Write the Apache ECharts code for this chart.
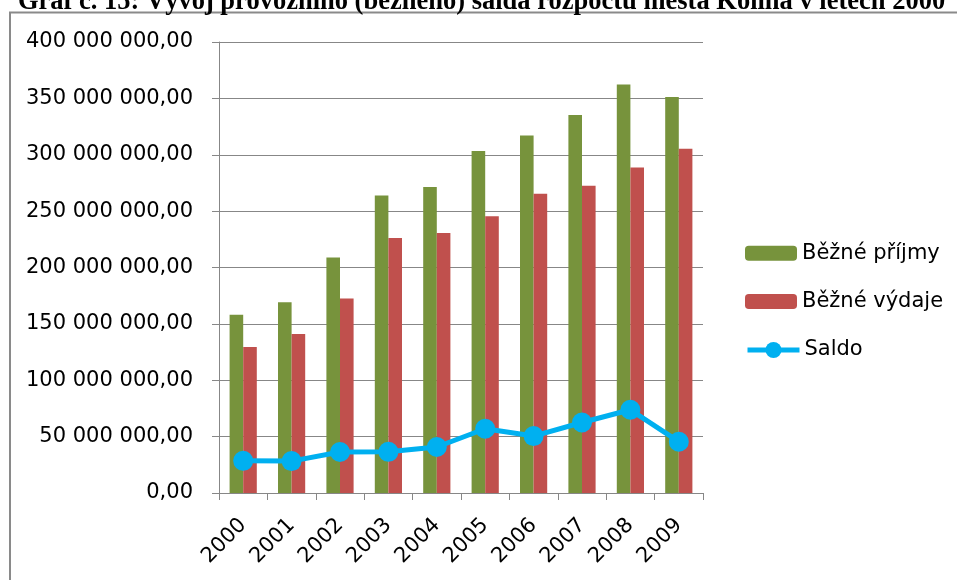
<!DOCTYPE html>
<html>
<head>
<meta charset="utf-8">
<script src="https://cdn.jsdelivr.net/npm/echarts@6/dist/echarts.min.js"></script>
<style>
  html, body { margin: 0; padding: 0; background: #fff; }
  #chart { width: 957px; height: 580px; }
</style>
</head>
<body>
<div id="chart"></div>
<script>
// Roky a hodnoty rozpočtu (Kč)
const years = ['2000', '2001', '2002', '2003', '2004', '2005', '2006', '2007', '2008', '2009'];
const prijmy = [158200000, 169100000, 208800000, 263800000, 271400000, 303300000, 317000000, 335300000, 362200000, 351200000];
const vydaje = [129500000, 141000000, 172400000, 226200000, 230600000, 245400000, 265500000, 272600000, 288600000, 305400000];
const saldo = [28500000, 28300000, 36400000, 36500000, 40800000, 57000000, 50500000, 62500000, 73800000, 45500000];
const seriesNames = ['Běžné příjmy', 'Běžné výdaje', 'Saldo'];
const titleText = 'Graf č. 15: Vývoj provozního (běžného) salda rozpočtu města Kolína v letech 2000';

const FONT = '"DejaVu Sans", sans-serif';
const GRID_COLOR = '#878787';
const BLUE = '#00B0F0';

// 400000000 -> "400 000 000,00"
function formatCzk(v) {
  const s = Math.round(v).toString().replace(/\B(?=(\d{3})+(?!\d))/g, ' ');
  return s + ',00';
}

const legendText = { fontFamily: FONT, fontSize: 21, color: '#000', lineHeight: 21 };

const chart = echarts.init(document.getElementById('chart'), null, { renderer: 'canvas' });

chart.setOption({
  animation: false,
  backgroundColor: '#fff',
  graphic: [
    {
      type: 'rect',
      shape: { x: 10, y: 12.5, width: 1200, height: 900 },
      style: { fill: 'none', stroke: '#8a8a8a', lineWidth: 2 },
      z: -1
    },
    {
      type: 'text',
      x: 18,
      y: 16,
      style: {
        text: titleText,
        font: 'bold 26.5px "Liberation Serif", serif',
        fill: '#000',
        verticalAlign: 'bottom'
      }
    }
  ],
  grid: { left: 219, right: 254, top: 42, bottom: 87, containLabel: false },
  legend: [
    {
      orient: 'vertical',
      left: 745,
      top: 242.7,
      padding: 0,
      itemWidth: 52,
      itemHeight: 15,
      itemGap: 27.4,
      data: [seriesNames[0], seriesNames[1]],
      textStyle: legendText
    },
    {
      orient: 'vertical',
      left: 745,
      top: 339.5,
      padding: 0,
      itemWidth: 52,
      itemHeight: 20,
      data: [{ name: seriesNames[2], lineStyle: { width: 5, color: BLUE } }],
      textStyle: legendText
    }
  ],
  xAxis: {
    type: 'category',
    data: years,
    boundaryGap: true,
    axisLine: { lineStyle: { color: GRID_COLOR, width: 1 } },
    axisTick: { show: true, length: 7, lineStyle: { color: GRID_COLOR } },
    axisLabel: { rotate: 45, margin: 29, fontFamily: FONT, fontSize: 21, color: '#000', interval: 0 },
    splitLine: { show: false }
  },
  yAxis: {
    type: 'value',
    min: 0,
    max: 400000000,
    interval: 50000000,
    axisLine: { show: true, lineStyle: { color: GRID_COLOR, width: 1 } },
    axisTick: { show: true, length: 7, lineStyle: { color: GRID_COLOR } },
    axisLabel: { margin: 26, fontFamily: FONT, fontSize: 21, color: '#000', formatter: formatCzk },
    splitLine: { show: true, lineStyle: { color: GRID_COLOR, width: 1 } }
  },
  series: [
    {
      name: seriesNames[0],
      type: 'bar',
      data: prijmy,
      barWidth: 13.6,
      barGap: '0%',
      itemStyle: { color: '#77933C' }
    },
    {
      name: seriesNames[1],
      type: 'bar',
      data: vydaje,
      barWidth: 13.6,
      barGap: '0%',
      itemStyle: { color: '#C0504D' }
    },
    {
      name: seriesNames[2],
      type: 'line',
      data: saldo,
      symbol: 'circle',
      symbolSize: 20,
      lineStyle: { color: BLUE, width: 5 },
      itemStyle: { color: BLUE },
      z: 5
    }
  ]
});
</script>
</body>
</html>
